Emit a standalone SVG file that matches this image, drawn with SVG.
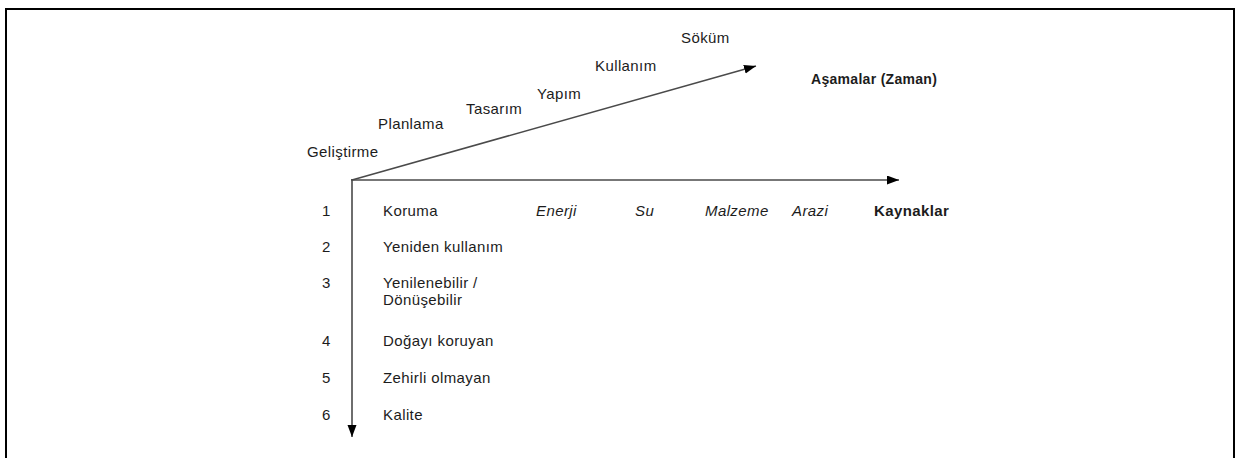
<svg xmlns="http://www.w3.org/2000/svg" width="1246" height="458" viewBox="0 0 1246 458">
<style>
text { font-family: "Liberation Sans", Arial, sans-serif; fill: #1c1c1c; }
.t { font-size: 15px; letter-spacing: 0.4px; }
.i { font-size: 15px; letter-spacing: 0.4px; font-style: italic; }
.b { font-weight: bold; }
.axis { stroke: #4a4a4a; stroke-width: 1.6; fill: none; marker-end: url(#arr); }
</style>
<defs>
<marker id="arr" markerUnits="userSpaceOnUse" markerWidth="13" markerHeight="10" refX="12" refY="4.5" orient="auto">
<path d="M0,0 L12,4.5 L0,9 z" fill="#000"/>
</marker>
</defs>
<rect x="0" y="0" width="1246" height="458" fill="#fff"/>
<rect id="frame" x="6" y="9" width="1228" height="460" fill="none" stroke="#000" stroke-width="2"/>
<g id="connectors">
<line class="axis" x1="352" y1="180" x2="756" y2="66"/>
<line class="axis" x1="351" y1="180" x2="899" y2="180"/>
<line class="axis" x1="352" y1="179" x2="352" y2="437"/>
</g>
<g id="phases">
<g id="phase-gelistirme"><text class="t" x="307" y="157">Geliştirme</text></g>
<g id="phase-planlama"><text class="t" x="378" y="129">Planlama</text></g>
<g id="phase-tasarim"><text class="t" x="466" y="114">Tasarım</text></g>
<g id="phase-yapim"><text class="t" x="537" y="99">Yapım</text></g>
<g id="phase-kullanim"><text class="t" x="595" y="71">Kullanım</text></g>
<g id="phase-sokum"><text class="t" x="681" y="43">Söküm</text></g>
<g id="label-asamalar"><text class="b" x="811" y="84" style="font-size:14px;letter-spacing:0.3px">Aşamalar (Zaman)</text></g>
</g>
<g id="resources">
<g id="res-enerji"><text class="i" x="536" y="216">Enerji</text></g>
<g id="res-su"><text class="i" x="635" y="216">Su</text></g>
<g id="res-malzeme"><text class="i" x="705" y="216">Malzeme</text></g>
<g id="res-arazi"><text class="i" x="792" y="216">Arazi</text></g>
<g id="label-kaynaklar"><text class="b" x="874" y="216" style="font-size:15px;letter-spacing:0.4px">Kaynaklar</text></g>
</g>
<g id="principles">
<g id="row-1"><text class="t" x="322" y="216">1</text><text class="t" x="383" y="216">Koruma</text></g>
<g id="row-2"><text class="t" x="322" y="252">2</text><text class="t" x="383" y="252">Yeniden kullanım</text></g>
<g id="row-3"><text class="t" x="322" y="288">3</text><text class="t" x="383" y="288">Yenilenebilir /</text><text class="t" x="383" y="305">Dönüşebilir</text></g>
<g id="row-4"><text class="t" x="322" y="346">4</text><text class="t" x="383" y="346">Doğayı koruyan</text></g>
<g id="row-5"><text class="t" x="322" y="383">5</text><text class="t" x="383" y="383">Zehirli olmayan</text></g>
<g id="row-6"><text class="t" x="322" y="420">6</text><text class="t" x="383" y="420">Kalite</text></g>
</g>
</svg>
